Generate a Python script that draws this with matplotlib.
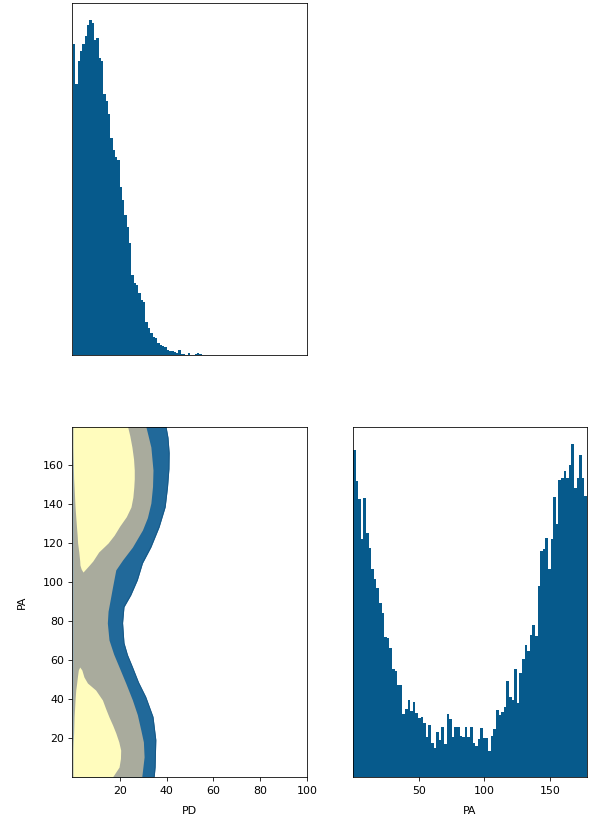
import numpy as np
import matplotlib
matplotlib.use("Agg")
import matplotlib.pyplot as plt

# PD histogram: bin width 1, counts starting at PD = 0
pd_counts = [312, 272, 295, 305, 312, 320, 331, 336, 333, 316,
             318, 298, 295, 262, 255, 242, 217, 205, 198, 195,
             168, 155, 140, 128, 112, 80, 72, 70, 62, 55,
             53, 33, 27, 22, 18, 17, 12, 10, 9, 8,
             5, 4, 4, 3, 2, 5, 1, 1, 0, 2,
             0, 0, 1, 2, 1]

# PA histogram: 90 bins over 0..178
pa_counts = [329, 297, 279, 239, 280, 245, 230, 209, 199, 190,
             175, 165, 141, 140, 130, 109, 107, 92, 92, 63,
             68, 77, 66, 75, 64, 59, 60, 54, 40, 52,
             34, 29, 45, 37, 50, 33, 63, 58, 40, 50,
             50, 41, 40, 50, 40, 50, 34, 31, 38, 49,
             39, 39, 26, 41, 48, 67, 62, 65, 70, 96,
             80, 77, 109, 74, 105, 119, 133, 127, 143, 153,
             142, 192, 227, 229, 240, 209, 239, 281, 254, 298,
             300, 308, 300, 314, 335, 290, 300, 324, 300, 282]
pa_lo, pa_hi = 0.0, 178.0

# contour boundaries (PA along y, PD extent along x)
blue_pa = [0, 5.1, 19.0, 30.8, 41.0, 48.5, 56.4, 62.5, 68.7, 79.0, 87.2, 93.3,
           101.0, 109.7, 117.9, 128.2, 138.5, 148.7, 158.0, 166.2, 174.0, 180]
blue_pd = [34.7, 35.1, 35.4, 34.2, 31.1, 28.0, 25.4, 23.3, 21.8, 21.2, 21.8, 24.7,
           27.5, 29.7, 33.3, 36.8, 39.4, 40.4, 41.0, 41.1, 40.6, 39.7]

gray_pa = [0, 10.3, 18.0, 24.1, 32.0, 39.5, 48.0, 56.4, 63.0, 70.3, 79.0, 85.0,
           90.8, 97.4, 106.2, 111.3, 117.9, 126.7, 133.0, 140.5, 149.0, 157.4,
           169.2, 180]
gray_pd = [29.4, 30.4, 30.1, 29.0, 27.5, 25.4, 22.6, 19.7, 17.4, 15.4, 14.7, 15.0,
           15.9, 16.9, 18.3, 21.2, 25.4, 29.7, 31.8, 33.3, 34.0, 34.2,
           33.3, 31.1]

ytop_pa = [105.1, 106.7, 108.7, 110.8, 115.4, 120.0, 124.0, 128.7, 133.5,
           138.5, 143.5, 148.7, 153.0, 157.4, 163.0, 169.2, 175.0, 180]
ytop_lo = [4.3, 3.5, 3.0, 2.9, 2.5, 2.0, 1.8, 1.5, 1.2,
           0.9, 0.7, 0.5, 0.3, 0.2, 0.1, 0.0, 0.0, 0.0]
ytop_hi = [4.3, 5.5, 7.0, 8.5, 11.0, 15.0, 17.6, 20.0, 22.8,
           24.8, 25.6, 26.0, 26.2, 26.2, 25.9, 25.2, 24.3, 23.3]

ybot_pa = [0, 5.1, 9.5, 13.8, 18.0, 22.6, 26.5, 30.8, 35.0, 39.5,
           44.6, 48.2, 51.3, 54.9, 56.4]
ybot_lo = [0.0, 0.0, 0.0, 0.0, 0.1, 0.3, 0.4, 0.5, 0.7, 0.9,
           1.2, 1.6, 1.9, 2.3, 2.9]
ybot_hi = [16.9, 19.7, 20.3, 20.4, 19.6, 18.3, 17.0, 15.4, 14.0, 12.6,
           9.7, 6.2, 4.7, 3.8, 2.9]

bar_color = '#065a8c'
c_blue = '#21699a'
c_gray = '#a9ab9d'
c_yellow = '#fffcbd'

W, H, DPI = 601, 825, 72
fig = plt.figure(figsize=(W / DPI, H / DPI), dpi=DPI)


def box(l, t, r, b):
    return [l / W, 1 - b / H, (r - l) / W, (b - t) / H]


ax1 = fig.add_axes(box(72, 3, 307, 355))
ax2 = fig.add_axes(box(72, 427, 307, 777))
ax3 = fig.add_axes(box(353, 427, 587, 777))

# top: PD histogram
pd_edges = np.arange(len(pd_counts))
ax1.bar(pd_edges, pd_counts, width=1.0, align='edge', color=bar_color,
        linewidth=0)
ax1.set_xlim(-0.4, 100)
ax1.set_ylim(0, max(pd_counts) * 1.05)
ax1.set_xticks([])
ax1.set_yticks([])

# bottom left: density contours
ax2.fill_betweenx(blue_pa, 0, blue_pd, color=c_blue, linewidth=0)
ax2.plot(blue_pd, blue_pa, color='#165887', linewidth=1.0)
ax2.fill_betweenx(gray_pa, 0, gray_pd, color=c_gray, linewidth=0)
ax2.fill_betweenx(ytop_pa, ytop_lo, ytop_hi, color=c_yellow, linewidth=0)
ax2.fill_betweenx(ybot_pa, ybot_lo, ybot_hi, color=c_yellow, linewidth=0)
ax2.set_xlim(-0.4, 100)
ax2.set_ylim(0, 179.5)
ax2.set_xticks([20, 40, 60, 80, 100])
ax2.set_yticks([20, 40, 60, 80, 100, 120, 140, 160])
ax2.set_xlabel('PD', fontsize=11)
ax2.set_ylabel('PA', fontsize=11)
ax2.xaxis.set_label_coords(0.5, -0.083)
ax2.yaxis.set_label_coords(-0.19, 0.5)

# bottom right: PA histogram
pa_w = (pa_hi - pa_lo) / len(pa_counts)
pa_edges = pa_lo + pa_w * np.arange(len(pa_counts))
ax3.bar(pa_edges, pa_counts, width=pa_w, align='edge', color=bar_color,
        linewidth=0)
ax3.set_xlim(pa_lo, pa_hi)
ax3.set_ylim(0, max(pa_counts) * 1.05)
ax3.set_xticks([50, 100, 150])
ax3.set_yticks([])
ax3.set_xlabel('PA', fontsize=11)
ax3.xaxis.set_label_coords(0.5, -0.083)

for ax in (ax2, ax3):
    ax.tick_params(axis='x', length=4, pad=5, labelsize=11)
    ax.tick_params(axis='y', length=4, pad=4, labelsize=11)

fig.savefig('out.png', dpi=DPI)
